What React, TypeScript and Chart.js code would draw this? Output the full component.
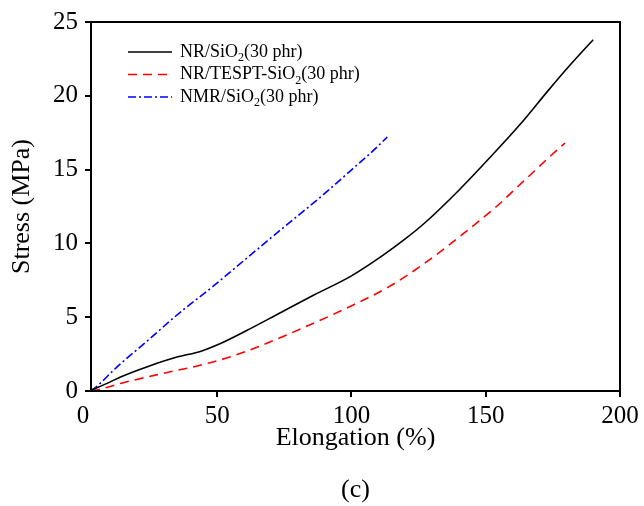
import React, { useEffect, useRef } from "react";
import { Chart, registerables } from "chart.js";

Chart.register(...registerables);

const FONT = "'Liberation Serif', 'Times New Roman', serif";

// Tick labels
const xTickValues = [0, 50, 100, 150, 200];
const yTickValues = [0, 5, 10, 15, 20, 25];

// NR/SiO2 (30 phr)
const nrX = [3, 5, 10, 14, 24, 35, 44, 51, 61, 73, 86, 100, 111, 120, 128, 140, 152, 163, 173, 181, 190];
const nrY = [0.05, 0.2, 0.6, 0.95, 1.65, 2.3, 2.7, 3.2, 4.1, 5.25, 6.5, 7.8, 9.1, 10.3, 11.5, 13.6, 15.9, 18.1, 20.3, 22.0, 23.8];

// NR/TESPT-SiO2 (30 phr)
const tesptX = [3, 6, 15, 30, 44, 55, 68, 83, 98, 114, 129, 144, 154, 164, 174, 179.5];
const tesptY = [0, 0.1, 0.56, 1.2, 1.76, 2.32, 3.2, 4.36, 5.6, 7.07, 8.88, 11.0, 12.5, 14.2, 15.9, 16.8];

// NMR/SiO2 (30 phr)
const nmrX = [3, 6, 12.5, 24, 36, 48.5, 61, 73.5, 89.5, 99.5, 107, 113.3];
const nmrY = [0, 0.45, 1.6, 3.4, 5.3, 7.1, 9.0, 10.9, 13.3, 14.9, 16.1, 17.2];

// Legend labels (prefix, subscript, suffix)
const labelPrefix = ["NR/SiO", "NR/TESPT-SiO", "NMR/SiO"];
const labelSub = ["2", "2", "2"];
const labelSuffix = ["(30 phr)", "(30 phr)", "(30 phr)"];

const xTitle = "Elongation (%)";
const yTitle = "Stress (MPa)";
const caption = "(c)";

const toPoints = (xs: number[], ys: number[]) => xs.map((x, i) => ({ x, y: ys[i] }));

const decorPlugin = {
  id: "decor",
  afterDraw(chart: any) {
    const ctx = chart.ctx;
    const area = chart.chartArea;
    const xs = chart.scales.x;
    const ys = chart.scales.y;
    ctx.save();
    // outward tick marks
    ctx.strokeStyle = "#000";
    ctx.lineWidth = 2;
    ctx.beginPath();
    xTickValues.forEach((v) => {
      if (v < xs.min || v > xs.max) return;
      const px = Math.round(xs.getPixelForValue(v));
      ctx.moveTo(px, area.bottom);
      ctx.lineTo(px, area.bottom + 6);
    });
    yTickValues.forEach((v) => {
      const py = Math.round(ys.getPixelForValue(v));
      ctx.moveTo(area.left, py);
      ctx.lineTo(area.left - 6, py);
    });
    ctx.stroke();
    // frame
    ctx.strokeRect(area.left, area.top, area.right - area.left, area.bottom - area.top);

    // legend
    const lx0 = area.left + 37;
    const lx1 = area.left + 81;
    const tx = area.left + 89;
    chart.data.datasets.forEach((ds: any, i: number) => {
      const y = area.top + 30 + i * 22.5;
      ctx.beginPath();
      ctx.setLineDash(ds.borderDash || []);
      ctx.strokeStyle = ds.borderColor;
      ctx.lineWidth = ds.borderWidth;
      ctx.moveTo(lx0, y);
      ctx.lineTo(lx1, y);
      ctx.stroke();
      ctx.setLineDash([]);
      ctx.fillStyle = "#000";
      ctx.textBaseline = "middle";
      ctx.textAlign = "left";
      ctx.font = `18px ${FONT}`;
      let x = tx;
      ctx.fillText(labelPrefix[i], x, y);
      x += ctx.measureText(labelPrefix[i]).width;
      ctx.font = `12px ${FONT}`;
      ctx.fillText(labelSub[i], x, y + 6);
      x += ctx.measureText(labelSub[i]).width;
      ctx.font = `18px ${FONT}`;
      ctx.fillText(labelSuffix[i], x, y);
    });
    // caption
    ctx.font = `26px ${FONT}`;
    ctx.textAlign = "center";
    ctx.textBaseline = "middle";
    ctx.fillStyle = "#000";
    ctx.fillText(caption, (area.left + area.right) / 2, 490);
    ctx.restore();
  },
};

const hiddenGrid = {
  display: true,
  drawOnChartArea: false,
  drawTicks: true,
  tickLength: 6,
  color: "rgba(0,0,0,0)",
};

export default function App() {
  const ref = useRef<HTMLCanvasElement | null>(null);
  useEffect(() => {
    document.body.style.margin = "0";
    const canvas = ref.current;
    if (!canvas) return;
    const chart = new Chart(canvas, {
      type: "line",
      data: {
        datasets: [
          {
            label: "NR/SiO2(30 phr)",
            data: toPoints(nrX, nrY),
            borderColor: "#000000",
            borderWidth: 1.6,
            pointRadius: 0,
            cubicInterpolationMode: "monotone",
            fill: false,
          },
          {
            label: "NR/TESPT-SiO2(30 phr)",
            data: toPoints(tesptX, tesptY),
            borderColor: "#ff0000",
            borderWidth: 1.6,
            borderDash: [9, 6],
            pointRadius: 0,
            cubicInterpolationMode: "monotone",
            fill: false,
          },
          {
            label: "NMR/SiO2(30 phr)",
            data: toPoints(nmrX, nmrY),
            borderColor: "#0000ff",
            borderWidth: 1.6,
            borderDash: [8, 3, 2, 3],
            pointRadius: 0,
            cubicInterpolationMode: "monotone",
            fill: false,
          },
        ],
      },
      options: {
        responsive: false,
        animation: false,
        layout: { padding: { top: 22, right: 24, bottom: 46, left: 0 } },
        plugins: {
          legend: { display: false },
          tooltip: { enabled: false },
        },
        scales: {
          x: {
            type: "linear",
            min: 3,
            max: 200,
            afterBuildTicks: (scale: any) => {
              scale.ticks = xTickValues.map((v) => ({ value: v }));
            },
            afterFit: (scale: any) => {
              scale.height = 69;
            },
            ticks: {
              autoSkip: false,
              maxRotation: 0,
              color: "#000",
              padding: 4,
              font: { family: FONT, size: 25 },
            },
            grid: hiddenGrid,
            border: { display: true, color: "#000", width: 2 },
            title: {
              display: true,
              text: xTitle,
              color: "#000",
              font: { family: FONT, size: 26 },
              padding: { top: 0, bottom: 6 },
            },
          },
          y: {
            type: "linear",
            min: 0,
            max: 25,
            afterBuildTicks: (scale: any) => {
              scale.ticks = yTickValues.map((v) => ({ value: v }));
            },
            afterFit: (scale: any) => {
              scale.width = 91;
            },
            ticks: {
              color: "#000",
              padding: 7,
              font: { family: FONT, size: 25 },
            },
            grid: hiddenGrid,
            border: { display: true, color: "#000", width: 2 },
            title: {
              display: true,
              text: yTitle,
              color: "#000",
              font: { family: FONT, size: 26 },
              padding: { top: 7, bottom: 0 },
            },
          },
        },
      },
      plugins: [decorPlugin],
    } as any);
    return () => chart.destroy();
  }, []);
  return (
    <div style={{ width: 644, height: 506 }}>
      <canvas ref={ref} width={644} height={506} style={{ display: "block" }} />
    </div>
  );
}
